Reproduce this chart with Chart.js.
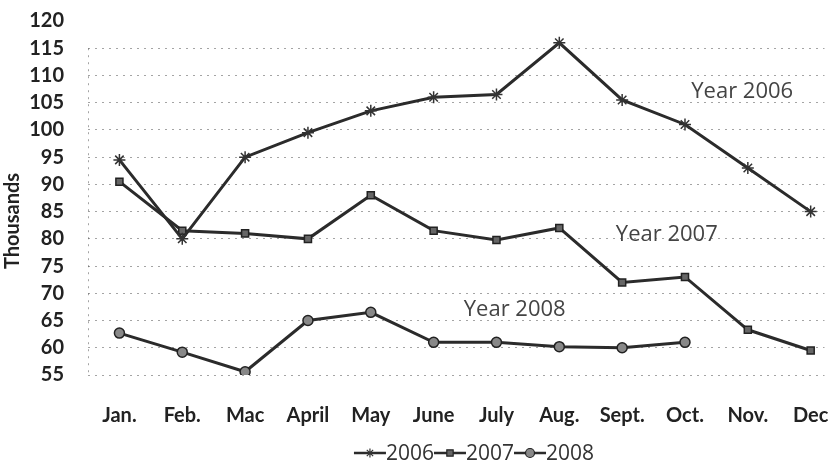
<!DOCTYPE html>
<html>
<head>
<meta charset="utf-8">
<script src="https://cdn.jsdelivr.net/npm/chart.js@4.4.0/dist/chart.umd.min.js"></script>
<style>
    html, body { margin: 0; padding: 0; background: #fff; }
    #wrap { width: 832px; height: 463px; position: relative; }
</style>
</head>
<body>
<div id="wrap"><canvas id="grafico"></canvas></div>
<script>
// Datos (miles)
const meses = ['Jan.', 'Feb.', 'Mac', 'April', 'May', 'June', 'July', 'Aug.', 'Sept.', 'Oct.', 'Nov.', 'Dec'];
const serie2006 = [94.5, 80, 95, 99.5, 103.5, 106, 106.5, 116, 105.5, 101, 93, 85];
const serie2007 = [90.5, 81.5, 81, 80, 88, 81.5, 79.8, 82, 72, 73, 63.3, 59.5];
const serie2008 = [62.7, 59.2, 55.6, 65, 66.5, 61, 61, 60.2, 60, 61, null, null];
const nombresSeries = ['2006', '2007', '2008'];
const ticksY = [55, 60, 65, 70, 75, 80, 85, 90, 95, 100, 105, 110, 115, 120];

// Etiquetas de texto dentro del grafico (en coordenadas de datos)
const notas = [
    { texto: 'Year 2006', x: 9.1, y: 107 },
    { texto: 'Year 2007', x: 7.9, y: 80.7 },
    { texto: 'Year 2008', x: 5.48, y: 66.9 }
];

const LINEA = '#2b2b2b';
const REJILLA = 'rgba(90, 90, 90, 0.55)';

function aPuntos(valores) {
    return valores.map((v, i) => ({ x: i, y: v }));
}

const estilos = [
    { pointStyle: 'star', pointRadius: 6, pointBackgroundColor: '#ddd', pointBorderColor: '#333', pointBorderWidth: 1.5 },
    { pointStyle: 'rect', pointRadius: 5, pointBackgroundColor: '#666', pointBorderColor: '#222', pointBorderWidth: 1.5 },
    { pointStyle: 'circle', pointRadius: 5, pointBackgroundColor: '#888', pointBorderColor: '#222', pointBorderWidth: 1.5 }
];

// Extras: eje izquierdo punteado, titulo Y, notas y leyenda
const extras = {
    id: 'extras',
    afterDraw(chart) {
        const ctx = chart.ctx;
        const sx = chart.scales.x;
        const sy = chart.scales.y;
        const area = chart.chartArea;
        ctx.save();

        // eje vertical punteado
        ctx.strokeStyle = REJILLA;
        ctx.lineWidth = 1;
        ctx.setLineDash([2, 5]);
        ctx.beginPath();
        ctx.moveTo(area.left + 0.5, sy.getPixelForValue(115));
        ctx.lineTo(area.left + 0.5, sy.getPixelForValue(55));
        ctx.stroke();
        ctx.setLineDash([]);

        // titulo del eje Y
        ctx.save();
        ctx.translate(13, 221);
        ctx.rotate(-Math.PI / 2);
        ctx.font = 'bold 20px Lato';
        ctx.fillStyle = '#222';
        ctx.textAlign = 'center';
        ctx.textBaseline = 'middle';
        ctx.fillText('Thousands', 0, 0);
        ctx.restore();

        // notas "Year ..."
        ctx.font = '22px "Open Sans"';
        ctx.fillStyle = '#444';
        ctx.textAlign = 'left';
        ctx.textBaseline = 'middle';
        notas.forEach(n => {
            ctx.fillText(n.texto, sx.getPixelForValue(n.x), sy.getPixelForValue(n.y));
        });

        // leyenda
        ctx.font = '21px "Open Sans"';
        const largo = 32;
        const anchos = nombresSeries.map(t => ctx.measureText(t).width);
        const total = anchos.reduce((a, b) => a + b, 0) + largo * nombresSeries.length;
        let x = 474 - total / 2;
        const y = 453;
        chart.data.datasets.forEach((ds, i) => {
            ctx.strokeStyle = LINEA;
            ctx.lineWidth = 2.5;
            ctx.beginPath();
            ctx.moveTo(x, y);
            ctx.lineTo(x + largo, y);
            ctx.stroke();
            const e = estilos[i];
            ctx.fillStyle = e.pointBackgroundColor;
            ctx.strokeStyle = e.pointBorderColor;
            ctx.lineWidth = 1.2;
            Chart.helpers.drawPoint(ctx, { pointStyle: e.pointStyle, radius: 4.5, rotation: 0, borderWidth: 1.2 }, x + largo / 2, y);
            ctx.fillStyle = '#333';
            ctx.textBaseline = 'middle';
            ctx.fillText(nombresSeries[i], x + largo, y + 1);
            x += largo + anchos[i];
        });
        ctx.restore();
    }
};

new Chart(document.getElementById('grafico'), {
    type: 'line',
    data: {
        datasets: [serie2006, serie2007, serie2008].map((serie, i) => ({
            label: nombresSeries[i],
            data: aPuntos(serie),
            borderColor: LINEA,
            borderWidth: 3,
            tension: 0,
            spanGaps: false,
            ...estilos[i]
        }))
    },
    options: {
        responsive: true,
        maintainAspectRatio: false,
        animation: false,
        layout: { padding: { top: 21, right: 0, bottom: 0, left: 0 } },
        plugins: {
            legend: { display: false },
            tooltip: { enabled: false }
        },
        scales: {
            x: {
                type: 'linear',
                min: -0.5,
                max: 11.22,
                afterBuildTicks: s => { s.ticks = meses.map((m, i) => ({ value: i })); },
                afterFit: s => { s.height = 88; s.paddingLeft = 0; s.paddingRight = 0; },
                grid: { display: false, drawTicks: false },
                border: { display: false },
                ticks: {
                    autoSkip: false,
                    maxRotation: 0,
                    padding: 29,
                    color: '#222',
                    font: { family: 'Lato', size: 20, weight: 'bold' },
                    callback: v => meses[v]
                }
            },
            y: {
                min: 55,
                max: 120,
                afterBuildTicks: s => { s.ticks = ticksY.map(v => ({ value: v })); },
                afterFit: s => { s.width = 88; s.paddingTop = 0; s.paddingBottom = 0; },
                grid: {
                    drawTicks: false,
                    lineWidth: 1,
                    color: c => (c.tick && c.tick.value === 120) ? 'rgba(0,0,0,0)' : REJILLA
                },
                border: { display: false, dash: [2, 5] },
                ticks: {
                    autoSkip: false,
                    padding: 24,
                    color: '#222',
                    font: { family: 'Lato', size: 20, weight: 'bold' }
                }
            }
        }
    },
    plugins: [extras]
});
</script>
</body>
</html>
